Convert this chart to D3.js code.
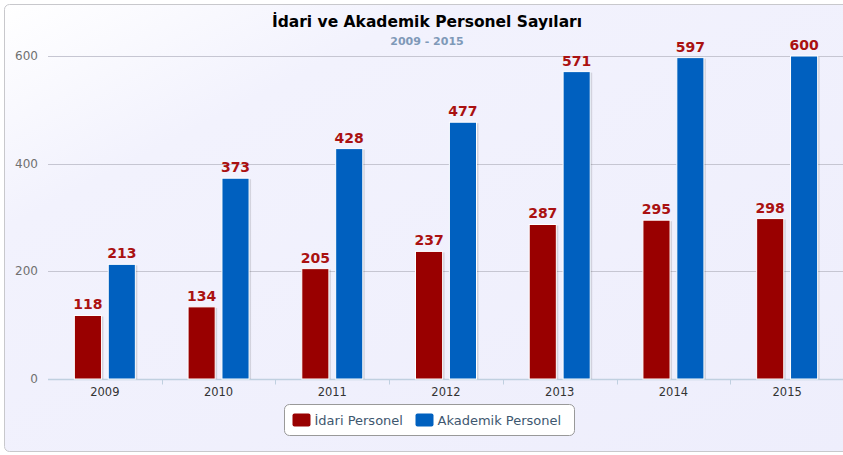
<!DOCTYPE html>
<html>
<head>
<meta charset="utf-8">
<script src="https://cdn.jsdelivr.net/npm/d3@7"></script>
<style>
  body { margin: 0; background: #fff; }
  svg { display: block; font-family: "DejaVu Sans", Verdana, sans-serif; }
</style>
</head>
<body>
<div id="chart"></div>
<script>
var years = ["2009", "2010", "2011", "2012", "2013", "2014", "2015"];
var seriesNames = ["İdari Personel", "Akademik Personel"];
var idari = [118, 134, 205, 237, 287, 295, 298];
var akademik = [213, 373, 428, 477, 571, 597, 600];
var colors = ["#990000", "#0060bf"];
var yTicks = [0, 200, 400, 600];

var width = 843, height = 455;
var margin = {left: 48, right: -1, top: 56, bottom: 76};

var svg = d3.select("#chart").append("svg")
    .attr("width", width)
    .attr("height", height);

var defs = svg.append("defs");
var grad = defs.append("linearGradient")
    .attr("id", "bg").attr("x1", 0).attr("y1", 0).attr("x2", 1).attr("y2", 1);
grad.append("stop").attr("offset", "0%").attr("stop-color", "#ffffff");
grad.append("stop").attr("offset", "25%").attr("stop-color", "#f2f2fd");
grad.append("stop").attr("offset", "100%").attr("stop-color", "#eeeefc");

// chart background
svg.append("rect")
    .attr("x", 4.5).attr("y", 4.5)
    .attr("width", 860).attr("height", 447)
    .attr("rx", 5)
    .attr("fill", "url(#bg)")
    .attr("stroke", "#c8c8cc");

var x0 = d3.scaleBand()
    .domain(years)
    .range([margin.left, width - margin.right]);

var x1 = d3.scaleBand()
    .domain(seriesNames)
    .range([x0.bandwidth() / 2 - 30.5, x0.bandwidth() / 2 + 30.5])
    .paddingInner(0.2);

var y = d3.scaleLinear()
    .domain([0, 600])
    .range([height - margin.bottom, margin.top]);

// grid lines
svg.append("g").selectAll("line")
    .data(yTicks.slice(1))
    .join("line")
    .attr("x1", margin.left).attr("x2", width)
    .attr("y1", d => Math.round(y(d)) + 0.5).attr("y2", d => Math.round(y(d)) + 0.5)
    .attr("stroke", "#c6c6d2");

// y tick labels
svg.append("g").selectAll("text")
    .data(yTicks)
    .join("text")
    .attr("x", 38)
    .attr("y", d => y(d) + 4)
    .attr("text-anchor", "end")
    .attr("fill", "#707070")
    .style("font-size", "12px")
    .text(d => d);

// x axis
var xAxis = svg.append("g")
    .attr("transform", "translate(0," + (Math.round(y(0)) + 0.5) + ")");
xAxis.append("line")
    .attr("x1", margin.left).attr("x2", width)
    .attr("stroke", "#c0d0e0").attr("stroke-width", 1.5);
xAxis.selectAll(".tick")
    .data(years.slice(1))
    .join("line")
    .attr("x1", d => Math.round(x0(d)) + 0.5).attr("x2", d => Math.round(x0(d)) + 0.5)
    .attr("y1", 0).attr("y2", 5)
    .attr("stroke", "#c0d0e0");
xAxis.selectAll("text")
    .data(years)
    .join("text")
    .attr("x", d => x0(d) + x0.bandwidth() / 2)
    .attr("y", 16)
    .attr("text-anchor", "middle")
    .attr("fill", "#333")
    .style("font-size", "11.5px")
    .text(d => d);

// bars
var rows = years.map(function(yr, i) {
  return {year: yr, values: [
    {name: seriesNames[0], value: idari[i], color: colors[0]},
    {name: seriesNames[1], value: akademik[i], color: colors[1]}
  ]};
});

var groups = svg.append("g").selectAll("g")
    .data(rows)
    .join("g")
    .attr("transform", d => "translate(" + x0(d.year) + ",0)");

// shadows
groups.selectAll("rect.shadow")
    .data(d => d.values)
    .join("rect")
    .attr("class", "shadow")
    .attr("x", d => x1(d.name) + 2)
    .attr("y", d => y(d.value) + 1)
    .attr("width", x1.bandwidth())
    .attr("height", d => y(0) - y(d.value) - 1)
    .attr("fill", "#000")
    .attr("opacity", 0.12);

groups.selectAll("rect.bar")
    .data(d => d.values)
    .join("rect")
    .attr("class", "bar")
    .attr("x", d => x1(d.name))
    .attr("y", d => y(d.value))
    .attr("width", x1.bandwidth())
    .attr("height", d => y(0) - y(d.value))
    .attr("fill", d => d.color)
    .attr("stroke", "#ffffff")
    .attr("stroke-width", 1);

groups.selectAll("text")
    .data(d => d.values)
    .join("text")
    .attr("x", d => x1(d.name) + x1.bandwidth() / 2)
    .attr("y", d => y(d.value) - 6)
    .attr("text-anchor", "middle")
    .attr("fill", "#aa1111")
    .style("font-size", "14px")
    .style("font-weight", "bold")
    .text(d => d.value);

// title
svg.append("text")
    .attr("x", 427).attr("y", 27)
    .attr("text-anchor", "middle")
    .attr("fill", "#000")
    .style("font-size", "15.5px")
    .style("font-weight", "bold")
    .text("İdari ve Akademik Personel Sayıları");

svg.append("text")
    .attr("x", 427).attr("y", 45)
    .attr("text-anchor", "middle")
    .attr("fill", "#7f99b8")
    .style("font-size", "11px")
    .style("font-weight", "bold")
    .text("2009 - 2015");

// legend
var legend = svg.append("g").attr("transform", "translate(284.5,404.5)");
legend.append("rect")
    .attr("width", 290).attr("height", 31).attr("rx", 5)
    .attr("fill", "#fff").attr("stroke", "#999");
var legendX = [8, 131];
var items = legend.selectAll("g")
    .data(seriesNames)
    .join("g")
    .attr("transform", (d, i) => "translate(" + legendX[i] + ",0)");
items.append("rect")
    .attr("x", 0).attr("y", 9).attr("width", 18).attr("height", 13).attr("rx", 2)
    .attr("fill", (d, i) => colors[i]);
items.append("text")
    .attr("x", 22).attr("y", 20)
    .attr("fill", "#3e576f")
    .style("font-size", "13px")
    .text(d => d);
</script>
</body>
</html>
